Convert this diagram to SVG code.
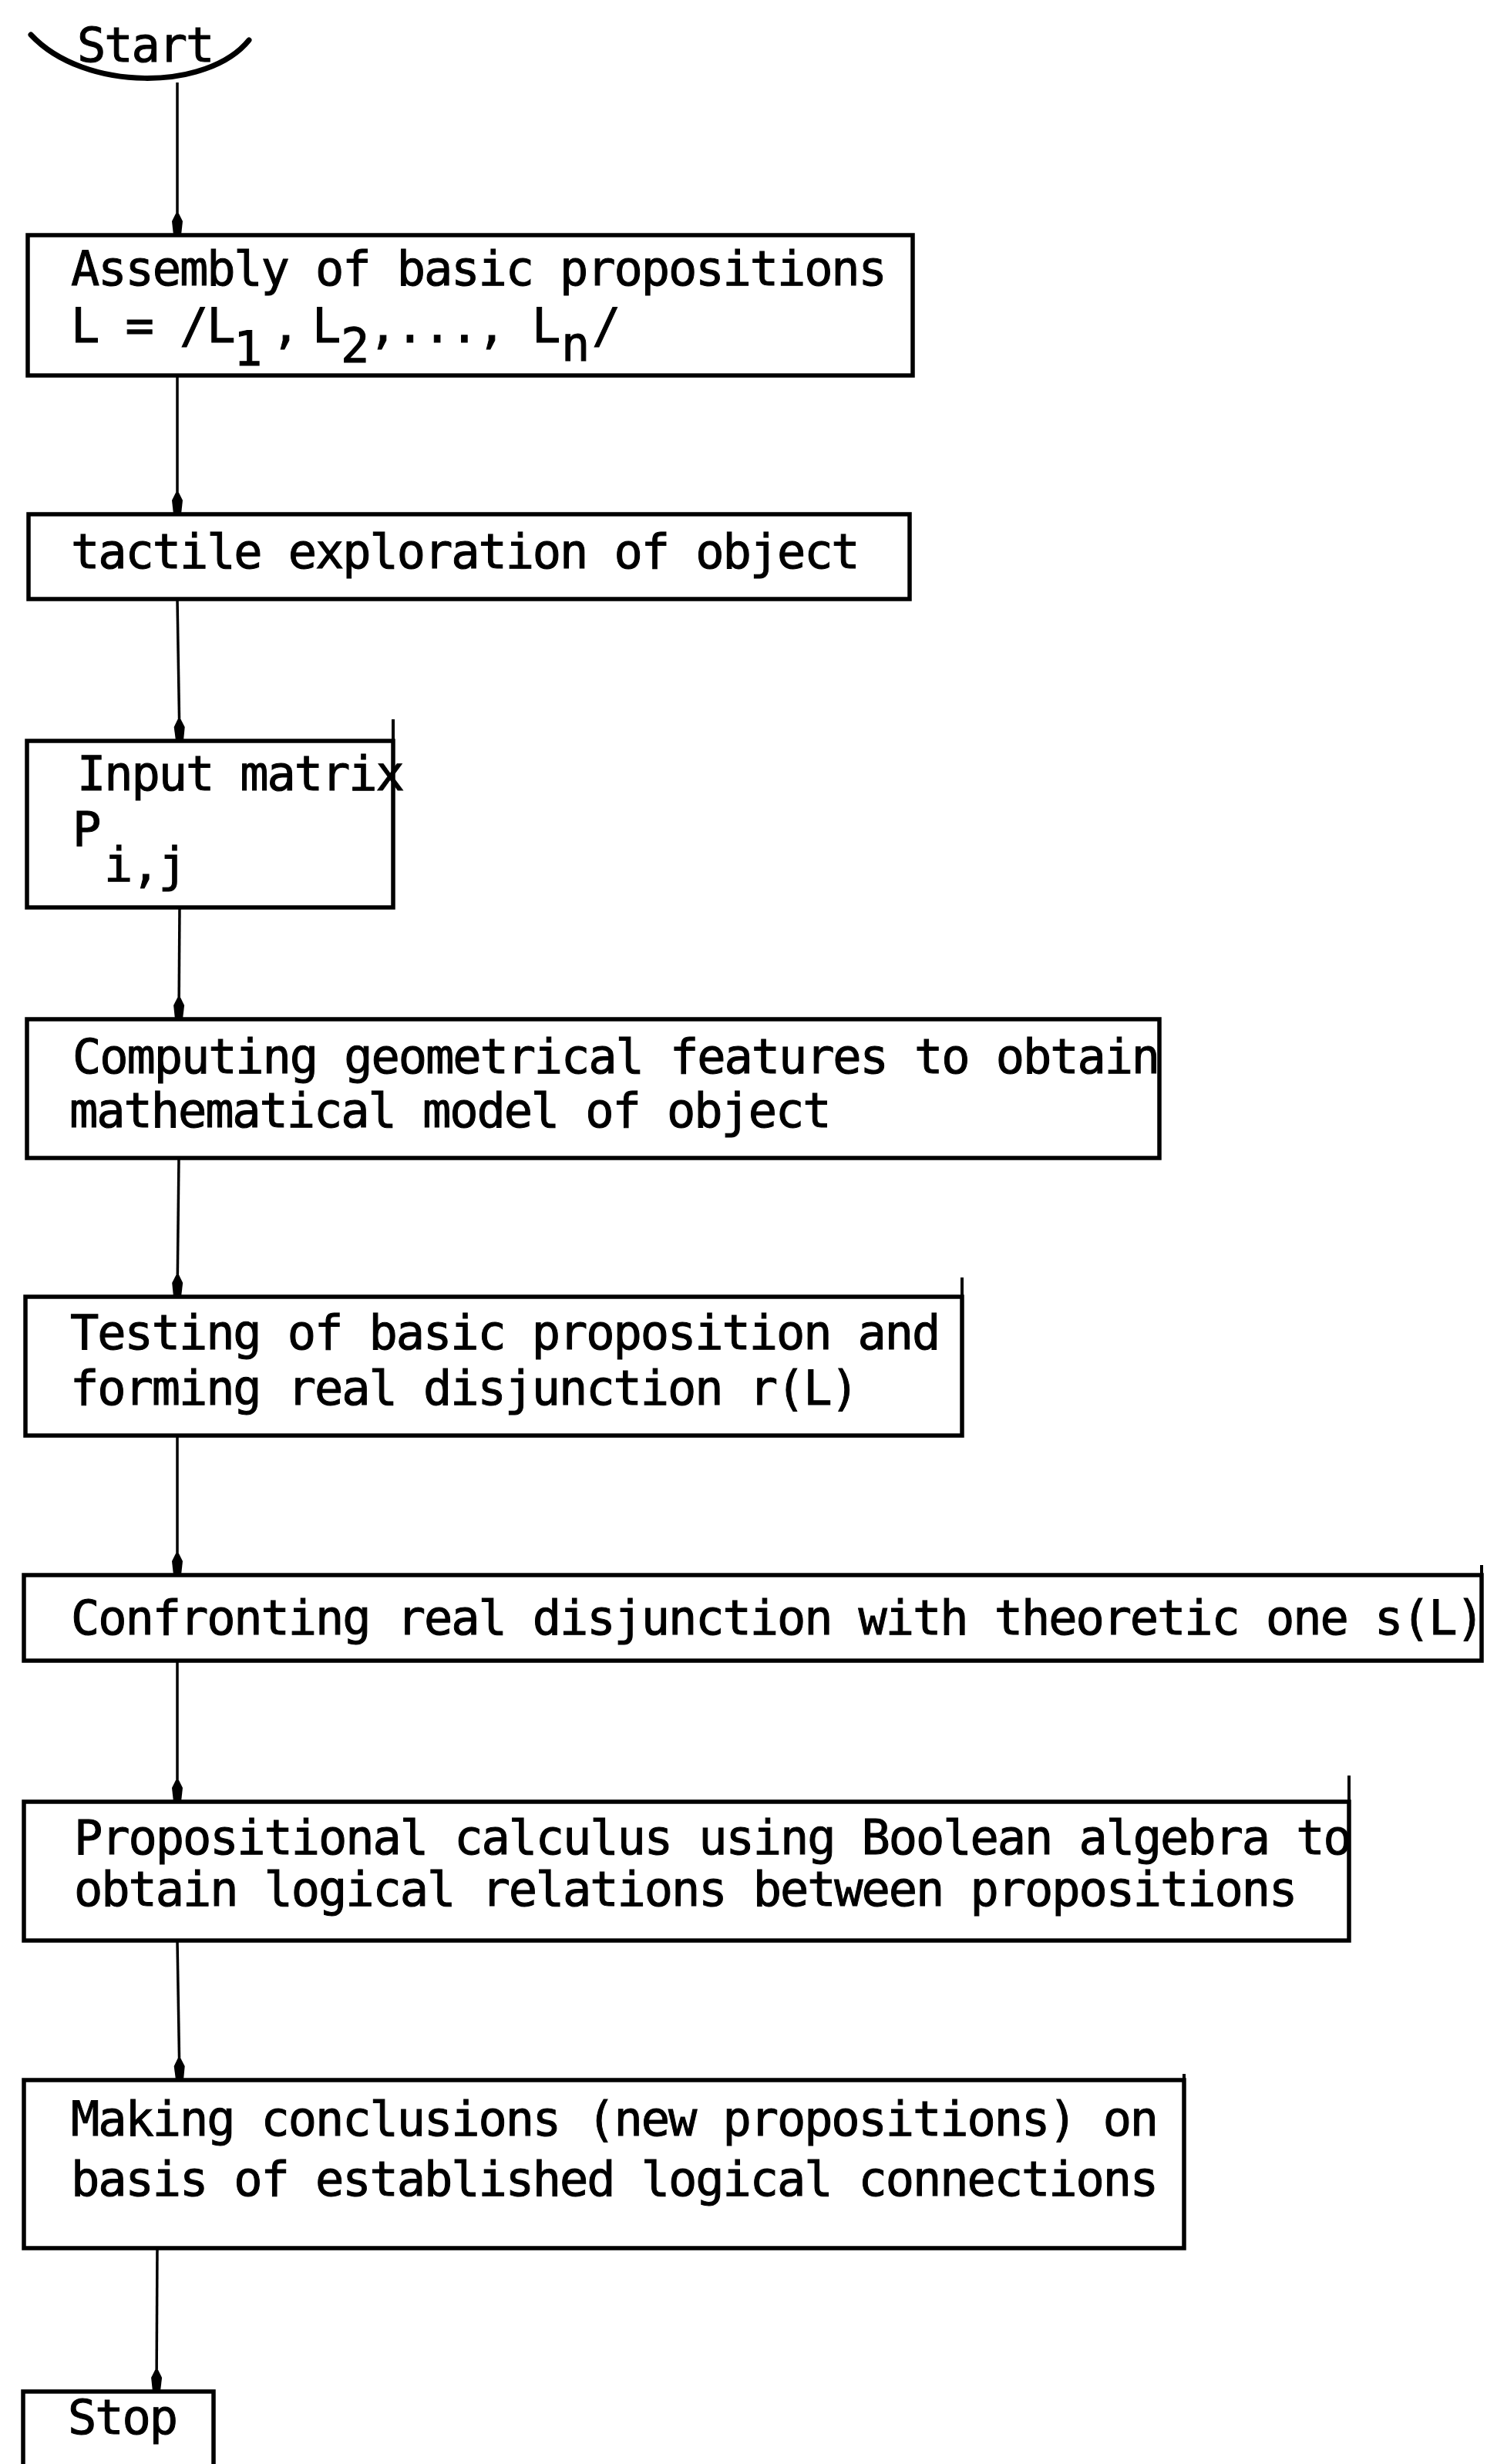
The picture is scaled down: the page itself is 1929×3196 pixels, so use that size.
<svg xmlns="http://www.w3.org/2000/svg" width="1929" height="3196" viewBox="0 0 1929 3196">
<style>
.box{fill:none;stroke:#000;stroke-width:5.5;stroke-linejoin:miter}
.ext{fill:none;stroke:#000;stroke-width:4}
.t{font-family:"DejaVu Sans Mono","Liberation Mono",monospace;font-size:62px;letter-spacing:-2.1px;fill:#000;stroke:#000;stroke-width:1}
.c{fill:none;stroke:#000;stroke-width:3.5}
</style>
<defs>
<marker id="ah" viewBox="0 -8 30 16" refX="28" refY="0" markerWidth="30" markerHeight="16" markerUnits="userSpaceOnUse" orient="auto">
<path d="M0,-2 L10,-7 L28,-5 L28,5 L10,7 L0,2 z" fill="#000"/>
</marker>
</defs>
<rect width="1929" height="3196" fill="#fff"/>

<g id="start">
<path d="M40 45 C 110 120, 270 118, 323 52" fill="none" stroke="#000" stroke-width="7" stroke-linecap="round"/>
<text class="t" x="100" y="80">Start</text>
</g>

<g id="n1">
<rect class="box" x="36" y="305" width="1148" height="182"/>
<text class="t" x="92" y="370">Assembly of basic propositions</text>
<text class="t" y="444"><tspan x="92">L = /L</tspan><tspan x="303" y="474">1</tspan><tspan x="352" y="444">,</tspan><tspan x="405" y="444">L</tspan><tspan x="442" y="470">2</tspan><tspan x="478" y="444">,...,</tspan><tspan x="690" y="444">L</tspan><tspan x="728" y="468">n</tspan><tspan x="768" y="444">/</tspan></text>
</g>

<g id="n2">
<rect class="box" x="37" y="667" width="1143" height="110"/>
<text class="t" x="92" y="737">tactile exploration of object</text>
</g>

<g id="n3">
<rect class="box" x="35" y="961" width="475" height="216"/>
<line class="ext" x1="510" y1="933" x2="510" y2="961"/>
<text class="t" x="100" y="1025">Input matrix</text>
<text class="t" x="94" y="1097">P</text>
<text class="t" x="135" y="1143">i,j</text>
</g>

<g id="n4">
<rect class="box" x="35" y="1322" width="1469" height="180"/>
<text class="t" x="94" y="1392">Computing geometrical features to obtain</text>
<text class="t" x="90" y="1462">mathematical model of object</text>
</g>

<g id="n5">
<rect class="box" x="33" y="1682" width="1215" height="180"/>
<line class="ext" x1="1248" y1="1657" x2="1248" y2="1682"/>
<text class="t" x="91" y="1750">Testing of basic proposition and</text>
<text class="t" x="91" y="1822">forming real disjunction r(L)</text>
</g>

<g id="n6">
<rect class="box" x="31" y="2043" width="1891" height="111"/>
<line class="ext" x1="1922" y1="2030" x2="1922" y2="2043"/>
<text class="t" x="92" y="2120">Confronting real disjunction with theoretic one s(L)</text>
</g>

<g id="n7">
<rect class="box" x="31" y="2337" width="1719" height="180"/>
<line class="ext" x1="1750" y1="2303" x2="1750" y2="2337"/>
<text class="t" x="96" y="2405">Propositional calculus using Boolean algebra to</text>
<text class="t" x="96" y="2472">obtain logical relations between propositions</text>
</g>

<g id="n8">
<rect class="box" x="31" y="2698" width="1505" height="218"/>
<line class="ext" x1="1536" y1="2690" x2="1536" y2="2698"/>
<text class="t" x="92" y="2770">Making conclusions (new propositions) on</text>
<text class="t" x="92" y="2848">basis of established logical connections</text>
</g>

<g id="stop">
<rect class="box" x="30" y="3102" width="247" height="130"/>
<text class="t" x="88" y="3157">Stop</text>
</g>

<g id="connectors">
<line class="c" x1="230" y1="107" x2="230" y2="305" marker-end="url(#ah)"/>
<line class="c" x1="230" y1="487" x2="230" y2="667" marker-end="url(#ah)"/>
<line class="c" x1="230" y1="777" x2="233" y2="961" marker-end="url(#ah)"/>
<line class="c" x1="233" y1="1177" x2="232" y2="1322" marker-end="url(#ah)"/>
<line class="c" x1="232" y1="1502" x2="230" y2="1682" marker-end="url(#ah)"/>
<line class="c" x1="230" y1="1862" x2="230" y2="2043" marker-end="url(#ah)"/>
<line class="c" x1="230" y1="2154" x2="230" y2="2337" marker-end="url(#ah)"/>
<line class="c" x1="230" y1="2517" x2="233" y2="2698" marker-end="url(#ah)"/>
<line class="c" x1="204" y1="2916" x2="203" y2="3102" marker-end="url(#ah)"/>
</g>
</svg>
